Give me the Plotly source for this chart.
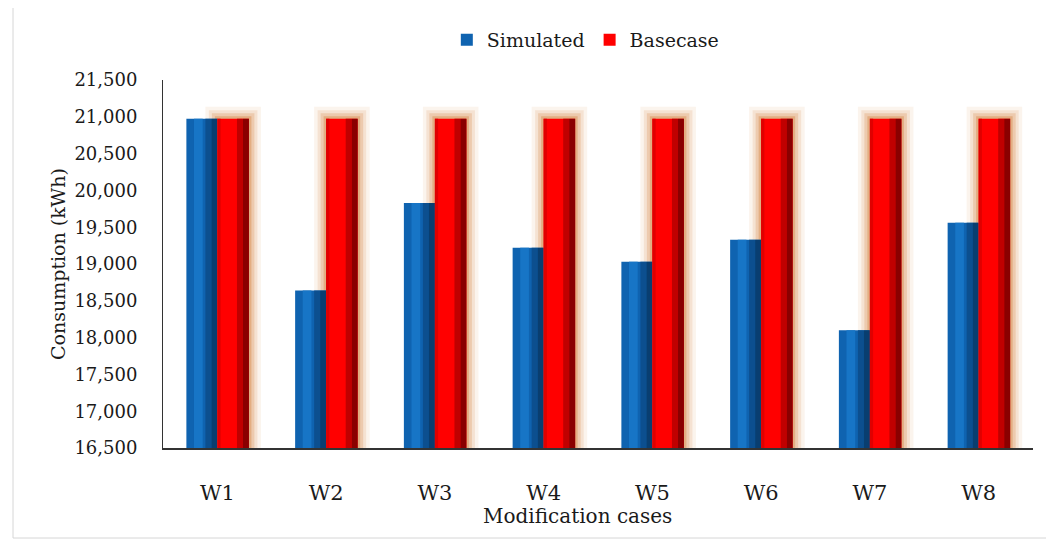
import plotly.graph_objects as go

categories = ["W1", "W2", "W3", "W4", "W5", "W6", "W7", "W8"]
simulated = [20975, 18640, 19830, 19220, 19030, 19330, 18100, 19560]
basecase = [20975, 20975, 20975, 20975, 20975, 20975, 20975, 20975]
y_ticks = [16500, 17000, 17500, 18000, 18500, 19000, 19500, 20000, 20500, 21000, 21500]

FONT = "DejaVu Serif"
BASE = 16500

fig = go.Figure()

# orange glow behind basecase bars
for lw, a in [(24, 0.08), (17, 0.13), (11, 0.2), (5, 0.3)]:
    fig.add_trace(go.Bar(
        x=categories, y=[v - BASE for v in basecase], base=BASE,
        offset=0, width=0.29,
        marker=dict(color="rgba(0,0,0,0)", line=dict(color=f"rgba(205,110,30,{a})", width=lw)),
        showlegend=False, hoverinfo="skip"))

# Simulated bars with shading strips
fig.add_trace(go.Bar(
    x=categories, y=[v - BASE for v in simulated], base=BASE,
    offset=-0.285, width=0.285, name="Simulated",
    marker=dict(color="#0F63B0", line=dict(width=0))))
for off, w, c in [(-0.215, 0.08, "#1775C6"), (-0.11, 0.055, "#0C4F8F"), (-0.055, 0.055, "#093E70")]:
    fig.add_trace(go.Bar(
        x=categories, y=[v - BASE for v in simulated], base=BASE,
        offset=off, width=w, marker=dict(color=c, line=dict(width=0)),
        showlegend=False, hoverinfo="skip"))

# Basecase bars with shading strips
fig.add_trace(go.Bar(
    x=categories, y=[v - BASE for v in basecase], base=BASE,
    offset=0, width=0.29, name="Basecase",
    marker=dict(color="#FF0000", line=dict(width=0))))
for off, w, c in [(0.0, 0.03, "#E00000"), (0.18, 0.055, "#C00000"), (0.235, 0.055, "#8A0000")]:
    fig.add_trace(go.Bar(
        x=categories, y=[v - BASE for v in basecase], base=BASE,
        offset=off, width=w, marker=dict(color=c, line=dict(width=0)),
        showlegend=False, hoverinfo="skip"))

fig.update_layout(
    width=1046, height=534,
    margin=dict(l=155, r=21, t=72, b=94),
    paper_bgcolor="white", plot_bgcolor="white",
    barmode="overlay",
    font=dict(family=FONT, size=18, color="#1a1a1a"),
    legend=dict(orientation="h", x=0.486, xanchor="center", y=1.109, yanchor="middle",
                font=dict(family=FONT, size=19, color="#1a1a1a"), itemwidth=30,
                bgcolor="rgba(0,0,0,0)"),
    xaxis=dict(type="category", categoryorder="array", categoryarray=categories,
               range=[-0.5, 7.5], showline=True, linecolor="#333333", linewidth=1.5,
               ticks="", showgrid=False, ticklabelstandoff=25,
               tickfont=dict(family=FONT, size=21, color="#1a1a1a")),
    yaxis=dict(range=[16500, 21500], tickvals=y_ticks, tickformat=",",
               showline=True, linecolor="#333333", linewidth=1, ticks="",
               showgrid=False, zeroline=False, ticklabelstandoff=21,
               tickfont=dict(family=FONT, size=18, color="#1a1a1a")),
    annotations=[
        dict(text="Consumption (kWh)", xref="paper", yref="paper", x=-0.1207, y=0.5,
             textangle=-90, showarrow=False, xanchor="center", yanchor="middle",
             font=dict(family=FONT, size=19, color="#1a1a1a")),
        dict(text="Modification cases", xref="paper", yref="paper", x=0.476, y=-0.185,
             showarrow=False, xanchor="center", yanchor="middle",
             font=dict(family=FONT, size=20, color="#1a1a1a")),
    ],
    shapes=[dict(type="rect", xref="paper", yref="paper",
                 x0=-0.1724, x1=1.0195, y0=-0.2446, y1=1.2065,
                 line=dict(color="#D6D6D6", width=1), fillcolor="rgba(0,0,0,0)", layer="below")],
)

fig.write_html("out.html")
